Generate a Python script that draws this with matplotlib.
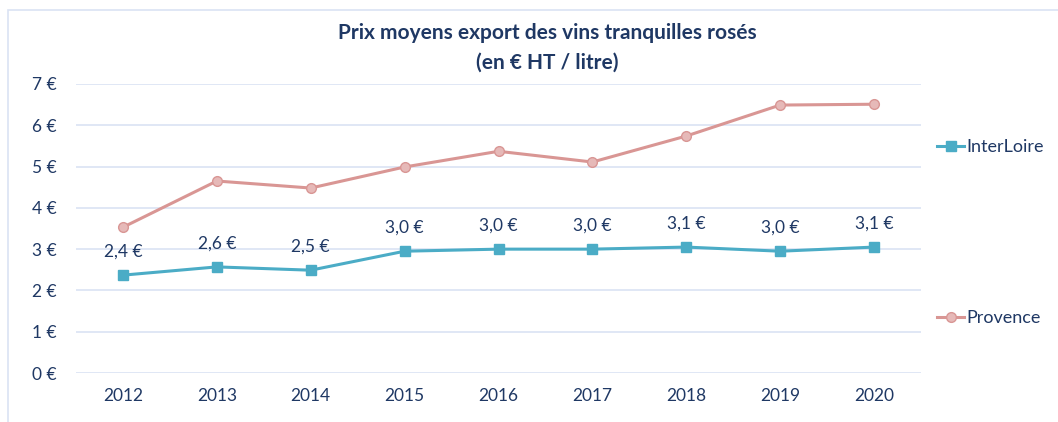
import matplotlib.pyplot as plt
from matplotlib.lines import Line2D
from matplotlib.patches import Rectangle

plt.rcParams['font.family'] = ['Lato', 'DejaVu Sans']

years = ['2012', '2013', '2014', '2015', '2016', '2017', '2018', '2019', '2020']
interloire = [2.37, 2.57, 2.49, 2.95, 3.00, 3.00, 3.05, 2.95, 3.05]
interloire_labels = ['2,4 €', '2,6 €', '2,5 €', '3,0 €', '3,0 €', '3,0 €', '3,1 €', '3,0 €', '3,1 €']
provence = [3.53, 4.65, 4.48, 4.99, 5.37, 5.11, 5.74, 6.49, 6.51]

text_col = '#1F3864'
blue = '#4BACC6'
rose = '#D99694'
rose_fill = '#E6B9B8'

fig = plt.figure(figsize=(10.58, 4.22), dpi=100)
# chart frame
fig.patches.append(Rectangle((8 / 1058, -0.05), 1.1, 1 - 10 / 422 + 0.05, transform=fig.transFigure,
                             fill=False, edgecolor='#DAE3F3', linewidth=1.2))

ax = fig.add_axes([76 / 1058, 1 - 373 / 422, (921 - 76) / 1058, (373 - 84) / 422])
x = range(len(years))
ax.plot(x, interloire, color=blue, lw=2.2, marker='s', ms=7, mfc=blue, mec=blue, label='InterLoire')
ax.plot(x, provence, color=rose, lw=2.2, marker='o', ms=7, mfc=rose_fill, mec=rose, label='Provence')

for i, (v, t) in enumerate(zip(interloire, interloire_labels)):
    ax.annotate(t, (i, v), xytext=(0, 17), textcoords='offset points', ha='center', va='center',
                fontsize=12.5, color=text_col)

ax.set_xlim(-0.5, len(years) - 0.5)
ax.set_ylim(0, 7)
ax.set_xticks(list(x))
ax.set_xticklabels(years)
ax.set_yticks(range(8))
ax.set_yticklabels([f'{i} €' for i in range(8)])
ax.tick_params(length=0, labelsize=12.5, labelcolor=text_col)
ax.tick_params(axis='x', pad=11)
ax.tick_params(axis='y', pad=14)
ax.grid(axis='y', color='#DAE3F3', lw=1.2)
ax.set_axisbelow(True)
for s in ax.spines.values():
    s.set_visible(False)

fig.text(0.517, 1 - 33 / 422, 'Prix moyens export des vins tranquilles rosés', ha='center', va='center',
         fontsize=15, fontweight='bold', color=text_col)
fig.text(0.517, 1 - 63 / 422, '(en € HT / litre)', ha='center', va='center',
         fontsize=15, fontweight='bold', color=text_col)

h1 = Line2D([], [], color=blue, lw=2.2, marker='s', ms=7, mfc=blue, mec=blue)
h2 = Line2D([], [], color=rose, lw=2.2, marker='o', ms=7, mfc=rose_fill, mec=rose)
for h, lab, yp in [(h1, 'InterLoire', 147), (h2, 'Provence', 318)]:
    fig.legend([h], [lab], loc='center left', bbox_to_anchor=(937 / 1058, 1 - yp / 422), frameon=False,
               fontsize=13, labelcolor=text_col, handlelength=1.5, handletextpad=0.1, borderpad=0,
               borderaxespad=0)

fig.savefig('out.png', dpi=100)
